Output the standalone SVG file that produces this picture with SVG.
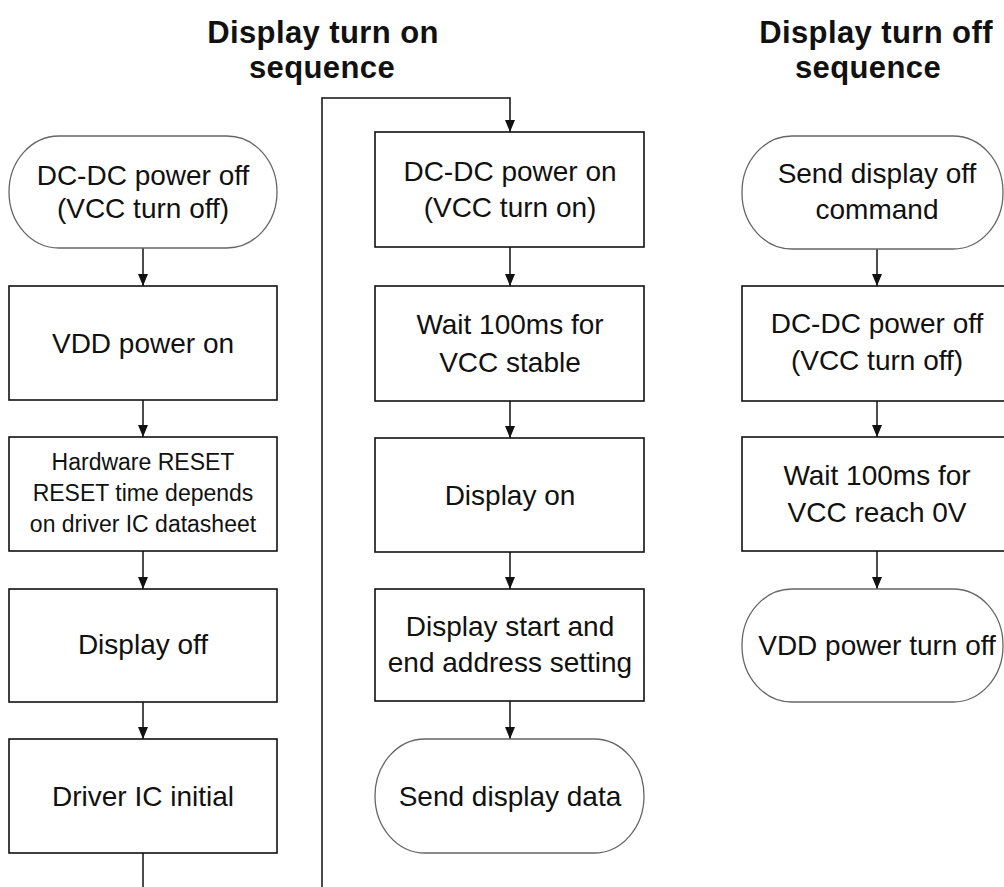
<svg xmlns="http://www.w3.org/2000/svg" width="1004" height="887" viewBox="0 0 1004 887">
<defs>
<style>
.box{fill:#fff;stroke:#111;stroke-width:1.6}
.term{fill:#fff;stroke:#666;stroke-width:1.3}
.t{font-family:"Liberation Sans",Arial,sans-serif;font-size:28px;fill:#111;text-anchor:middle}
.s{font-family:"Liberation Sans",Arial,sans-serif;font-size:23px;fill:#111;text-anchor:middle}
.title{font-family:"Liberation Sans",Arial,sans-serif;font-size:31px;font-weight:bold;fill:#111;text-anchor:middle;letter-spacing:0.4px}
.c{fill:none;stroke:#111;stroke-width:1.5}
</style>
<marker id="ah" viewBox="0 0 12 10" refX="12" refY="5" markerWidth="12" markerHeight="10" markerUnits="userSpaceOnUse" orient="auto">
<path d="M0,0 L12,5 L0,10 Z" fill="#111"/>
</marker>
</defs>
<rect width="1004" height="887" fill="#fff"/>

<g id="titles">
<text class="title" x="323" y="43">Display turn on</text>
<text class="title" x="322" y="78">sequence</text>
<text class="title" x="876" y="43">Display turn off</text>
<text class="title" x="868" y="78">sequence</text>
</g>

<g id="connectors">
<line class="c" x1="143" y1="248" x2="143" y2="286" marker-end="url(#ah)"/>
<line class="c" x1="143" y1="400" x2="143" y2="437" marker-end="url(#ah)"/>
<line class="c" x1="143" y1="551" x2="143" y2="589" marker-end="url(#ah)"/>
<line class="c" x1="143" y1="702" x2="143" y2="739" marker-end="url(#ah)"/>
<line class="c" x1="143" y1="853" x2="143" y2="887"/>
<polyline class="c" points="322,887 322,98 510,98 510,132" marker-end="url(#ah)"/>
<line class="c" x1="510" y1="247" x2="510" y2="286" marker-end="url(#ah)"/>
<line class="c" x1="510" y1="401" x2="510" y2="438" marker-end="url(#ah)"/>
<line class="c" x1="510" y1="552" x2="510" y2="589" marker-end="url(#ah)"/>
<line class="c" x1="510" y1="701" x2="510" y2="739" marker-end="url(#ah)"/>
<line class="c" x1="877" y1="249" x2="877" y2="286" marker-end="url(#ah)"/>
<line class="c" x1="877" y1="401" x2="877" y2="437" marker-end="url(#ah)"/>
<line class="c" x1="877" y1="551" x2="877" y2="589" marker-end="url(#ah)"/>
</g>

<g id="n-dcdc-off">
<rect class="term" x="9" y="136" width="268" height="112" rx="50" ry="56"/>
<text class="t" x="143" y="185">DC-DC power off</text>
<text class="t" x="143" y="218">(VCC turn off)</text>
</g>
<g id="n-vdd-on">
<rect class="box" x="9" y="286" width="268" height="114"/>
<text class="t" x="143" y="353">VDD power on</text>
</g>
<g id="n-reset">
<rect class="box" x="9" y="437" width="268" height="114"/>
<text class="s" x="143" y="470">Hardware RESET</text>
<text class="s" x="143" y="501">RESET time depends</text>
<text class="s" x="143" y="532">on driver IC datasheet</text>
</g>
<g id="n-disp-off">
<rect class="box" x="9" y="589" width="268" height="113"/>
<text class="t" x="143" y="654">Display off</text>
</g>
<g id="n-driver-init">
<rect class="box" x="9" y="739" width="268" height="114"/>
<text class="t" x="143" y="806">Driver IC initial</text>
</g>

<g id="n-dcdc-on">
<rect class="box" x="375" y="132" width="269" height="115"/>
<text class="t" x="510" y="181">DC-DC power on</text>
<text class="t" x="510" y="217">(VCC turn on)</text>
</g>
<g id="n-wait-stable">
<rect class="box" x="375" y="286" width="269" height="115"/>
<text class="t" x="510" y="334">Wait 100ms for</text>
<text class="t" x="510" y="372">VCC stable</text>
</g>
<g id="n-disp-on">
<rect class="box" x="375" y="438" width="269" height="114"/>
<text class="t" x="510" y="505">Display on</text>
</g>
<g id="n-addr">
<rect class="box" x="375" y="589" width="269" height="112"/>
<text class="t" x="510" y="636">Display start and</text>
<text class="t" x="510" y="672">end address setting</text>
</g>
<g id="n-send-data">
<rect class="term" x="375" y="739" width="269" height="114" rx="50" ry="57"/>
<text class="t" x="510" y="806">Send display data</text>
</g>

<g id="n-send-off">
<rect class="term" x="742" y="136" width="261" height="113" rx="50" ry="56"/>
<text class="t" x="877" y="183">Send display off</text>
<text class="t" x="877" y="219">command</text>
</g>
<g id="n-dcdc-off2">
<rect class="box" x="742" y="286" width="272" height="115"/>
<text class="t" x="877" y="333">DC-DC power off</text>
<text class="t" x="877" y="370">(VCC turn off)</text>
</g>
<g id="n-wait-0v">
<rect class="box" x="742" y="437" width="272" height="114"/>
<text class="t" x="877" y="485">Wait 100ms for</text>
<text class="t" x="877" y="522">VCC reach 0V</text>
</g>
<g id="n-vdd-off">
<rect class="term" x="742" y="589" width="261" height="113" rx="50" ry="56"/>
<text class="t" x="877" y="655">VDD power turn off</text>
</g>
</svg>
